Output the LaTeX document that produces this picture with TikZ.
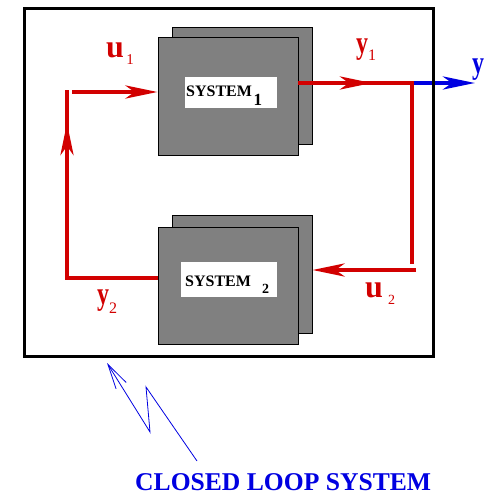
\documentclass[tikz,border=0pt]{standalone}
\usepackage{fontspec}
\setmainfont{Liberation Serif}
\usetikzlibrary{arrows.meta}
\definecolor{lred}{RGB}{210,0,0}
\definecolor{lblue}{RGB}{0,0,225}
\definecolor{boxgray}{RGB}{128,128,128}
\newcommand\subfnt[1]{\fontsize{#1}{#1}\selectfont}
\newcommand\ylet{\scalebox{0.75}[1]{y}}
\begin{document}
\begin{tikzpicture}[x=1pt,y=-1pt,
  sysbox/.style={draw=black, fill=boxgray, line width=0.8pt, minimum width=140pt, minimum height=117pt, inner sep=0pt},
  labbox/.style={fill=white, inner sep=0pt},
  systxt/.style={anchor=base west, inner sep=0pt, font=\fontsize{16}{16}\selectfont\bfseries},
  sig/.style={draw=lred, line width=4.5pt},
  outsig/.style={draw=lblue, line width=4.5pt},
  tipa/.style={-{Stealth[length=32pt,width=13pt,inset=9pt]}},
  siglab/.style={anchor=base west, inner sep=0pt, text=lred, font=\fontsize{32}{32}\selectfont\bfseries},
  frame/.style={draw=black, line width=3pt},
  bolt/.style={draw=lblue, line width=0.8pt, line join=miter}
]
\useasboundingbox (0,0) rectangle (484,494);

% system 1
\node[sysbox, minimum height=117pt] (s1b) at (242,85.5) {};
\node[sysbox, minimum height=118pt] (s1f) at (228,96) {};
\node[labbox, minimum width=92pt, minimum height=31pt] (s1l) at (231,92.5) {};
\node[systxt] (s1t) at (186,97) {SYSTEM\hspace{1.5pt}\raisebox{-9pt}{\subfnt{17}1}};

% system 2
\node[sysbox, minimum height=118pt] (s2b) at (242,274) {};
\node[sysbox, minimum height=117pt] (s2f) at (228,285.5) {};
\node[labbox, minimum width=96pt, minimum height=35pt] (s2l) at (229,279.5) {};
\node[systxt] (s2t) at (185,286) {SYSTEM\hspace{11pt}\raisebox{-7pt}{\subfnt{14}2}};

% coordinates
\coordinate (u1s) at (72,92);
\coordinate (ltop) at (67,90);
\coordinate (ltip) at (67,123);
\coordinate (ltipb) at (67,156);
\coordinate (lcorner) at (67,278);
\coordinate (y1tip) at (372,83);
\coordinate (y1tipb) at (339,83);
\coordinate (rcorner) at (412,83);
\coordinate (rbot) at (412,264);
\coordinate (yout) at (475,83);
\coordinate (u2s) at (416,270);

% output (blue)
\draw[outsig, tipa] (rcorner) -- (yout);

% y1 path
\draw[sig, line join=miter] (s1f.east |- y1tip) -- (rcorner) -- (rbot);
\draw[sig, tipa] (y1tipb) -- (y1tip);

% u2
\draw[sig, tipa] (u2s) -- (s2b.east |- u2s);

% y2 and feedback up
\draw[sig, line join=miter] (s2f.west |- lcorner) -- (lcorner) -- (ltop);
\draw[sig, tipa] (ltipb) -- (ltip);

% u1
\draw[sig, tipa] (u1s) -- (s1f.west |- u1s);

% frame
\draw[frame] (24,9) rectangle (433,356);

% labels
\node[siglab] (u1) at (106,58) {u\hspace{2.5pt}\raisebox{-7pt}{\subfnt{15}\mdseries 1}};
\node[siglab] (y1) at (356,53.5) {\ylet\raisebox{-7.5pt}{\subfnt{16}\mdseries 1}};
\node[siglab, text=lblue] (yo) at (472,73.5) {\ylet};
\node[siglab] (u2) at (365,297) {u\hspace{5pt}\raisebox{-7pt}{\subfnt{14}\mdseries 2}};
\node[siglab] (y2) at (97,304.5) {\ylet\raisebox{-8.5pt}{\subfnt{16}\mdseries 2}};

% lightning arrow
\coordinate (b0) at (197,461);
\coordinate (b1) at (146,387);
\coordinate (b2) at (150,432);
\coordinate (b3) at (107,363);
\draw[bolt, -{Straight Barb[length=25pt,width=12pt,line width=0.8pt]}] (b0) -- (b1) -- (b2) -- (b3);

% caption
\node[anchor=base west, inner sep=0pt, text=lblue, font=\fontsize{25.6}{25.6}\selectfont\bfseries] (cap) at (135,490) {CLOSED LOOP SYSTEM};
\end{tikzpicture}
\end{document}
